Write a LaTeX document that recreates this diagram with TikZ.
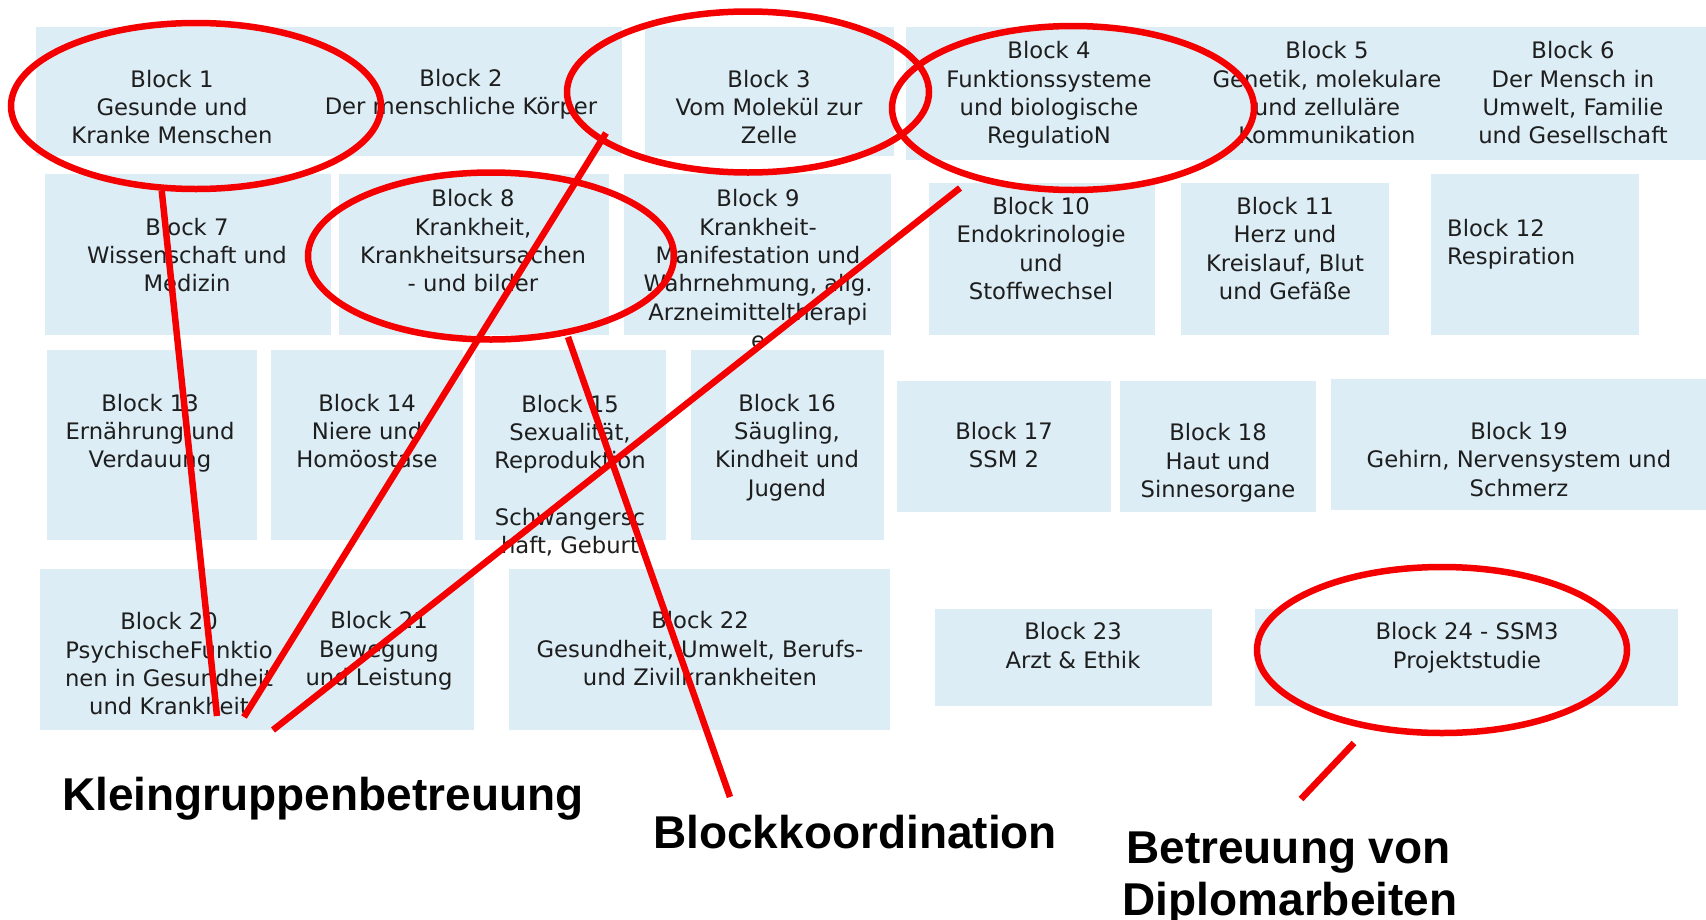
\documentclass[tikz,border=0pt]{standalone}
\usepackage{fontspec}
\setmainfont{DejaVu Sans}
\newfontfamily\labelfont{Liberation Sans}
\usetikzlibrary{shapes.geometric}
\definecolor{blockblue}{RGB}{220,237,245}
\definecolor{ink}{RGB}{30,30,30}
\definecolor{markred}{RGB}{245,0,0}
\begin{document}
\begin{tikzpicture}[x=1pt,y=-1pt,
  blocktext/.style={align=center, text=ink, font=\fontsize{22.7}{28.3}\selectfont, inner sep=0pt, text depth=0pt, anchor=south},
  ring/.style={ellipse, draw=markred, line width=6.5pt, inner sep=0pt},
  pointer/.style={draw=markred, line width=6.5pt},
  biglabel/.style={font=\labelfont\bfseries\fontsize{46}{52}\selectfont, text=black, inner sep=0pt}]
\useasboundingbox (0,0) rectangle (1706,919);
% block rectangles
\fill[blockblue] (36,27) rectangle (622,156);
\fill[blockblue] (645,27) rectangle (894,156);
\fill[blockblue] (906,27) rectangle (1706,160);
\fill[blockblue] (45,174) rectangle (331,335);
\fill[blockblue] (339,174) rectangle (609,335);
\fill[blockblue] (624,174) rectangle (891,335);
\fill[blockblue] (929,183) rectangle (1155,335);
\fill[blockblue] (1181,183) rectangle (1389,335);
\fill[blockblue] (1431,174) rectangle (1639,335);
\fill[blockblue] (47,350) rectangle (257,540);
\fill[blockblue] (271,350) rectangle (463,540);
\fill[blockblue] (475,350) rectangle (666,540);
\fill[blockblue] (691,350) rectangle (884,540);
\fill[blockblue] (897,381) rectangle (1111,512);
\fill[blockblue] (1120,381) rectangle (1316,512);
\fill[blockblue] (1331,379) rectangle (1706,510);
\fill[blockblue] (40,569) rectangle (474,730);
\fill[blockblue] (509,569) rectangle (890,730);
\fill[blockblue] (935,609) rectangle (1212,706);
\fill[blockblue] (1255,609) rectangle (1678,706);
% block texts (anchored at the baseline of the last line)
\node[blocktext] (b1) at (172,144) {Block 1\\Gesunde und\\Kranke Menschen};
\node[blocktext] (b2) at (461,114.5) {Block 2\\Der menschliche Körper};
\node[blocktext] (b3) at (769,144) {Block 3\\Vom Molekül zur\\Zelle};
\node[blocktext] (b4) at (1049,144) {Block 4\\Funktionssysteme\\und biologische\\RegulatioN};
\node[blocktext] (b5) at (1327,144) {Block 5\\Genetik, molekulare\\und zelluläre\\Kommunikation};
\node[blocktext] (b6) at (1573,144) {Block 6\\Der Mensch in\\Umwelt, Familie\\und Gesellschaft};
\node[blocktext] (b7) at (187,292) {Block 7\\Wissenschaft und\\Medizin};
\node[blocktext] (b8) at (473,292) {Block 8\\Krankheit,\\Krankheitsursachen\\- und bilder};
\node[blocktext] (b9) at (758,348.5) {Block 9\\Krankheit-\\Manifestation und\\Wahrnehmung, allg.\\Arzneimitteltherapi\\e};
\node[blocktext] (b10) at (1041,299.5) {Block 10\\Endokrinologie\\und\\Stoffwechsel};
\node[blocktext] (b11) at (1285,299.5) {Block 11\\Herz und\\Kreislauf, Blut\\und Gefäße};
\node[blocktext, align=left, anchor=south west] (b12) at (1447,264.7) {Block 12\\Respiration};
\node[blocktext] (b13) at (150,468) {Block 13\\Ernährung und\\Verdauung};
\node[blocktext] (b14) at (367,468) {Block 14\\Niere und\\Homöostase};
\node[blocktext] (b15) at (570,554) {Block 15\\Sexualität,\\Reproduktion\\[28.3pt]Schwangersc\\haft, Geburt};
\node[blocktext] (b16) at (787,496.4) {Block 16\\Säugling,\\Kindheit und\\Jugend};
\node[blocktext] (b17) at (1004,468) {Block 17\\SSM 2};
\node[blocktext] (b18) at (1218,497.5) {Block 18\\Haut und\\Sinnesorgane};
\node[blocktext] (b19) at (1519,496.4) {Block 19\\Gehirn, Nervensystem und\\Schmerz};
\node[blocktext] (b20) at (169,715) {Block 20\\PsychischeFunktio\\nen in Gesundheit\\und Krankheit};
\node[blocktext] (b21) at (379,685.7) {Block 21\\Bewegung\\und Leistung};
\node[blocktext] (b22) at (700,685.7) {Block 22\\Gesundheit, Umwelt, Berufs-\\und Zivilkrankheiten};
\node[blocktext] (b23) at (1073,668.3) {Block 23\\Arzt \& Ethik};
\node[blocktext] (b24) at (1467,668.3) {Block 24 - SSM3\\Projektstudie};
% labels
\node[biglabel, anchor=base west] (kg) at (62,810) {Kleingruppenbetreuung};
\node[biglabel, anchor=base west] (bk) at (653,848) {Blockkoordination};
\node[biglabel, anchor=base] (da) at (1288.5,863) {Betreuung von};
\node[biglabel, anchor=base] (db) at (1290,915) {Diplomarbeiten};
% ellipses
\node[ring, minimum width=370pt, minimum height=166pt] (e1) at (196,106) {};
\node[ring, minimum width=362pt, minimum height=161pt] (e2) at (748,92) {};
\node[ring, minimum width=362pt, minimum height=164pt] (e3) at (1073,108) {};
\node[ring, minimum width=366pt, minimum height=167pt] (e4) at (491,256) {};
\node[ring, minimum width=370pt, minimum height=166pt] (e5) at (1442,650) {};
% connector ends
\coordinate (l1b) at (217,716);
\coordinate (l2a) at (606,133);
\coordinate (l2b) at (244,717);
\coordinate (l3a) at (960,188);
\coordinate (l3b) at (273,730);
\coordinate (l4a) at (568,337);
\coordinate (l4b) at (730,797);
\coordinate (l5a) at (1354,743);
\coordinate (l5b) at (1301,799);
\draw[pointer] (e1.248) -- (l1b);
\draw[pointer] (l2a) -- (l2b);
\draw[pointer] (l3a) -- (l3b);
\draw[pointer] (l4a) -- (l4b);
\draw[pointer] (l5a) -- (l5b);
\end{tikzpicture}
\end{document}
